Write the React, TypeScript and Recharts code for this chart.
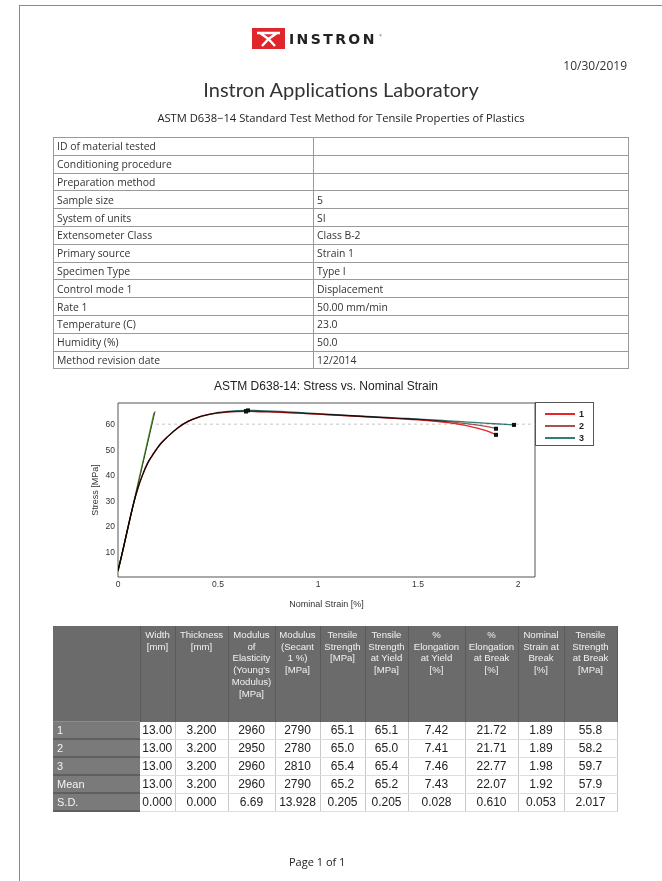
import React from "react";
import {
  ComposedChart,
  Line,
  Scatter,
  XAxis,
  YAxis,
  ReferenceLine,
  ReferenceArea,
} from "recharts";

// ---- chart data ----
const X_TICKS = [0, 0.5, 1, 1.5, 2];
const Y_TICKS = [10, 20, 30, 40, 50, 60];

// shared elastic rise, all three specimens overlap here
const RISE_STRAIN = [0, 0.02, 0.04, 0.06, 0.08, 0.1, 0.12, 0.15, 0.18, 0.21, 0.25, 0.3, 0.35, 0.4, 0.45];
const RISE_STRESS = [2.5, 9, 16, 23, 29.5, 35, 39.5, 45, 48.7, 52, 55.2, 58.6, 61.1, 62.7, 63.7];

const S1_STRAIN = [0.5, 0.55, 0.6, 0.64, 0.75, 0.9, 1.0, 1.2, 1.4, 1.55, 1.65, 1.73, 1.8, 1.86, 1.89];
const S1_STRESS = [64.4, 64.8, 65.0, 65.1, 64.9, 64.3, 63.9, 63.1, 62.2, 61.4, 60.6, 59.6, 58.3, 56.9, 55.8];
const S2_STRAIN = [0.5, 0.55, 0.6, 0.64, 0.75, 0.9, 1.0, 1.2, 1.4, 1.55, 1.65, 1.73, 1.8, 1.86, 1.89];
const S2_STRESS = [64.3, 64.7, 64.9, 65.0, 64.8, 64.3, 63.9, 63.1, 62.3, 61.6, 61.0, 60.3, 59.6, 58.8, 58.2];
const S3_STRAIN = [0.5, 0.55, 0.6, 0.65, 0.75, 0.9, 1.0, 1.2, 1.4, 1.55, 1.65, 1.75, 1.85, 1.92, 1.98];
const S3_STRESS = [64.6, 65.0, 65.3, 65.4, 65.2, 64.6, 64.1, 63.2, 62.4, 61.8, 61.3, 60.8, 60.3, 60.0, 59.7];

// modulus (chord) lines
const MOD_A = [
  { x: 0, y: 2.5 },
  { x: 0.185, y: 65 },
];
const MOD_B = [
  { x: 0, y: 2 },
  { x: 0.18, y: 64.5 },
];

const YIELD_STRAIN = [0.64, 0.64, 0.65];
const YIELD_STRESS = [65.1, 65.0, 65.4];
const BREAK_STRAIN = [1.89, 1.89, 1.98];
const BREAK_STRESS = [55.8, 58.2, 59.7];

const SERIES_NAMES = ["1", "2", "3"];
const SERIES_COLORS = ["#e8262a", "#a65350", "#2f7f78"];

// ---- report text ----
const INFO_LABELS = [
  "ID of material tested",
  "Conditioning procedure",
  "Preparation method",
  "Sample size",
  "System of units",
  "Extensometer Class",
  "Primary source",
  "Specimen Type",
  "Control mode 1",
  "Rate 1",
  "Temperature (C)",
  "Humidity (%)",
  "Method revision date",
];
const INFO_VALUES = ["", "", "", "5", "SI", "Class B-2", "Strain 1", "Type I", "Displacement", "50.00 mm/min", "23.0", "50.0", "12/2014"];

const RESULT_HEADERS = [
  ["Width", "[mm]"],
  ["Thickness", "[mm]"],
  ["Modulus", "of", "Elasticity", "(Young's", "Modulus)", "[MPa]"],
  ["Modulus", "(Secant", "1 %)", "[MPa]"],
  ["Tensile", "Strength", "[MPa]"],
  ["Tensile", "Strength", "at Yield", "[MPa]"],
  ["%", "Elongation", "at Yield", "[%]"],
  ["%", "Elongation", "at Break", "[%]"],
  ["Nominal", "Strain at", "Break", "[%]"],
  ["Tensile", "Strength", "at Break", "[MPa]"],
];
const ROW_LABELS = ["1", "2", "3", "Mean", "S.D."];
const WIDTH_MM = ["13.00", "13.00", "13.00", "13.00", "0.000"];
const THICKNESS_MM = ["3.200", "3.200", "3.200", "3.200", "0.000"];
const MODULUS_E = ["2960", "2950", "2960", "2960", "6.69"];
const MODULUS_SEC = ["2790", "2780", "2810", "2790", "13.928"];
const TENSILE = ["65.1", "65.0", "65.4", "65.2", "0.205"];
const TENSILE_YIELD = ["65.1", "65.0", "65.4", "65.2", "0.205"];
const ELONG_YIELD = ["7.42", "7.41", "7.46", "7.43", "0.028"];
const ELONG_BREAK = ["21.72", "21.71", "22.77", "22.07", "0.610"];
const STRAIN_BREAK = ["1.89", "1.89", "1.98", "1.92", "0.053"];
const TENSILE_BREAK = ["55.8", "58.2", "59.7", "57.9", "2.017"];
const RESULT_COLS = [WIDTH_MM, THICKNESS_MM, MODULUS_E, MODULUS_SEC, TENSILE, TENSILE_YIELD, ELONG_YIELD, ELONG_BREAK, STRAIN_BREAK, TENSILE_BREAK];
const COL_WIDTHS = [87, 35, 53, 47, 45, 45, 43, 57, 53, 46, 53];

const toPoints = (xs: number[], ys: number[]) => xs.map((x, i) => ({ x, y: ys[i] }));

const curves = [
  toPoints([...RISE_STRAIN, ...S1_STRAIN], [...RISE_STRESS, ...S1_STRESS]),
  toPoints([...RISE_STRAIN, ...S2_STRAIN], [...RISE_STRESS, ...S2_STRESS]),
  toPoints([...RISE_STRAIN, ...S3_STRAIN], [...RISE_STRESS, ...S3_STRESS]),
];
const markers = [...toPoints(YIELD_STRAIN, YIELD_STRESS), ...toPoints(BREAK_STRAIN, BREAK_STRESS)];

const X_MAX = 2.085;
const Y_MAX = 68.3;
const SANS = "'Liberation Sans', Arial, sans-serif";

const SquareMark = (p: any) => <rect x={p.cx - 2} y={p.cy - 2} width={4} height={4} fill="#111" />;

const abs = (left: number, top: number): React.CSSProperties => ({ position: "absolute", left, top });

function Logo() {
  return (
    <div style={abs(252, 28)}>
      <svg width={135} height={22}>
        <rect x={0} y={0} width={33} height={21} fill="#e0262b" />
        <path d="M5 5 L28 5 M8 5 L16.5 11 L25 5 M16.5 11 L10 18 M16.5 11 L23 18" stroke="#fff" strokeWidth={2.4} fill="none" />
        <text x={37} y={16} fontFamily="'DejaVu Sans', sans-serif" fontWeight={700} fontSize={14} letterSpacing={2.4} fill="#222">
          INSTRON
        </text>
        <text x={127} y={9} fontSize={4} fill="#222">®</text>
      </svg>
    </div>
  );
}

function InfoTable() {
  const cell: React.CSSProperties = {
    border: "1px solid #9a9a9a",
    padding: "0 3px",
    height: 16.8,
    fontSize: 10.4,
    color: "#333",
    lineHeight: "16px",
    whiteSpace: "nowrap",
  };
  return (
    <table
      style={{ ...abs(53, 137), width: 575, borderCollapse: "collapse", fontFamily: "'Open Sans', sans-serif", tableLayout: "fixed" }}
    >
      <colgroup>
        <col style={{ width: 260 }} />
        <col style={{ width: 315 }} />
      </colgroup>
      <tbody>
        {INFO_LABELS.map((label, i) => (
          <tr key={label}>
            <td style={cell}>{label}</td>
            <td style={cell}>{INFO_VALUES[i]}</td>
          </tr>
        ))}
      </tbody>
    </table>
  );
}

function ResultTable() {
  const head: React.CSSProperties = {
    background: "#6b6b6b",
    color: "#f2f2f2",
    fontSize: 9.6,
    lineHeight: "11.7px",
    textAlign: "center",
    verticalAlign: "top",
    paddingTop: 3,
    height: 91,
    borderRight: "1px solid #5a5a5a",
    borderLeft: "1px solid #7c7c7c",
  };
  const label: React.CSSProperties = {
    background: "#7a7a7a",
    color: "#f4f4f4",
    fontSize: 11,
    padding: "0 4px",
    height: 16,
    lineHeight: "16px",
    borderBottom: "2px solid #5f5f5f",
    borderTop: "1px solid #8d8d8d",
  };
  const data: React.CSSProperties = {
    background: "#fff",
    color: "#222",
    fontSize: 12,
    textAlign: "center",
    height: 16,
    lineHeight: "16px",
    borderRight: "1px solid #c8c8c8",
    borderBottom: "1px solid #dedede",
    padding: 0,
  };
  return (
    <table style={{ ...abs(53, 626), width: 564, borderCollapse: "collapse", tableLayout: "fixed", fontFamily: SANS }}>
      <colgroup>
        {COL_WIDTHS.map((w, i) => (
          <col key={i} style={{ width: w }} />
        ))}
      </colgroup>
      <tbody>
        <tr>
          <td style={{ ...head, borderLeft: "none" }} />
          {RESULT_HEADERS.map((lines, i) => (
            <td key={i} style={head}>
              {lines.map((l, j) => (
                <div key={j} style={{ whiteSpace: "nowrap" }}>{l}</div>
              ))}
            </td>
          ))}
        </tr>
        {ROW_LABELS.map((r, ri) => (
          <tr key={r}>
            <td style={label}>{r}</td>
            {RESULT_COLS.map((col, ci) => (
              <td key={ci} style={data}>{col[ri]}</td>
            ))}
          </tr>
        ))}
      </tbody>
    </table>
  );
}

function StressStrainChart() {
  const tick = { fontSize: 8.5, fill: "#333", fontFamily: SANS };
  return (
    <div style={{ ...abs(60, 375) }}>
      <style>{`.spec-curve path { mix-blend-mode: multiply; }`}</style>
      <ComposedChart width={560} height={240} margin={{ top: 28, right: 85, bottom: 8, left: 30 }}>
        <ReferenceArea x1={0} x2={X_MAX} y1={0} y2={Y_MAX} fill="#fff" fillOpacity={0} stroke="#555" strokeWidth={1} ifOverflow="visible" />
        <XAxis
          type="number"
          dataKey="x"
          domain={[0, X_MAX]}
          ticks={X_TICKS}
          allowDataOverflow
          tickLine={false}
          axisLine={false}
          tickSize={3}
          tickMargin={1}
          height={30}
          tick={tick}
          tickFormatter={(v: number) => String(v)}
          label={{ value: "Nominal Strain [%]", position: "insideBottom", offset: 0, fontSize: 9, fill: "#333", fontFamily: SANS }}
        />
        <YAxis
          type="number"
          dataKey="y"
          domain={[0, Y_MAX]}
          ticks={Y_TICKS}
          allowDataOverflow
          tickLine={false}
          axisLine={false}
          tickSize={3}
          tickMargin={0}
          width={28}
          tick={tick}
          label={{
            value: "Stress [MPa]",
            angle: -90,
            position: "insideLeft",
            offset: 5,
            fontSize: 9,
            fill: "#333",
            fontFamily: SANS,
            style: { textAnchor: "middle" },
          }}
        />
        <ReferenceLine
          segment={[
            { x: 0.19, y: 60 },
            { x: X_MAX, y: 60 },
          ]}
          stroke="#c4c4c4"
          strokeDasharray="3 3"
        />
        <Line data={MOD_B} dataKey="y" type="linear" stroke="#5aa02c" strokeWidth={1.3} dot={false} isAnimationActive={false} />
        <Line data={MOD_A} dataKey="y" type="linear" stroke="#2f4a22" strokeWidth={1} dot={false} isAnimationActive={false} />
        {curves.map((pts, i) => (
          <Line
            key={SERIES_NAMES[i]}
            className="spec-curve"
            data={pts}
            dataKey="y"
            name={SERIES_NAMES[i]}
            type="monotone"
            stroke={SERIES_COLORS[i]}
            strokeWidth={1.3}
            dot={false}
            isAnimationActive={false}
          />
        ))}
        <Scatter data={markers} dataKey="y" shape={SquareMark} isAnimationActive={false} />
      </ComposedChart>
    </div>
  );
}

function ChartLegend() {
  return (
    <div style={{ ...abs(535, 402), width: 57, height: 42, border: "1px solid #555", background: "#fff" }}>
      {SERIES_NAMES.map((n, i) => (
        <div key={n} style={{ position: "absolute", left: 9, top: 6 + i * 12, height: 10, display: "flex", alignItems: "center" }}>
          <div style={{ width: 30, height: 2, background: SERIES_COLORS[i] }} />
          <span style={{ marginLeft: 4, fontSize: 9, fontWeight: 700, fontFamily: SANS, color: "#222" }}>{n}</span>
        </div>
      ))}
    </div>
  );
}

export default function App() {
  return (
    <div style={{ position: "absolute", left: 0, top: 0, width: 662, height: 881, background: "#fff", overflow: "hidden" }}>
      <div style={{ ...abs(19, 5), width: 650, height: 880, borderTop: "1px solid #8a8a8a", borderLeft: "1px solid #8a8a8a" }} />
      <Logo />
      <div style={{ ...abs(0, 57), width: 627, textAlign: "right", fontFamily: "'Open Sans', sans-serif", fontSize: 12, color: "#333" }}>
        10/30/2019
      </div>
      <div style={{ ...abs(0, 77), width: 682, textAlign: "center", fontFamily: "Lato, sans-serif", fontSize: 20, color: "#333" }}>
        Instron Applications Laboratory
      </div>
      <div style={{ ...abs(0, 110), width: 682, textAlign: "center", fontFamily: "'Open Sans', sans-serif", fontSize: 11.2, color: "#222" }}>
        ASTM D638−14 Standard Test Method for Tensile Properties of Plastics
      </div>
      <InfoTable />
      <div style={{ ...abs(0, 379), width: 652, textAlign: "center", fontFamily: SANS, fontSize: 12, color: "#222" }}>
        ASTM D638-14: Stress vs. Nominal Strain
      </div>
      <StressStrainChart />
      <ChartLegend />
      <ResultTable />
      <div style={{ ...abs(289, 854), fontFamily: "'Open Sans', sans-serif", fontSize: 11, color: "#222" }}>Page 1 of 1</div>
    </div>
  );
}
